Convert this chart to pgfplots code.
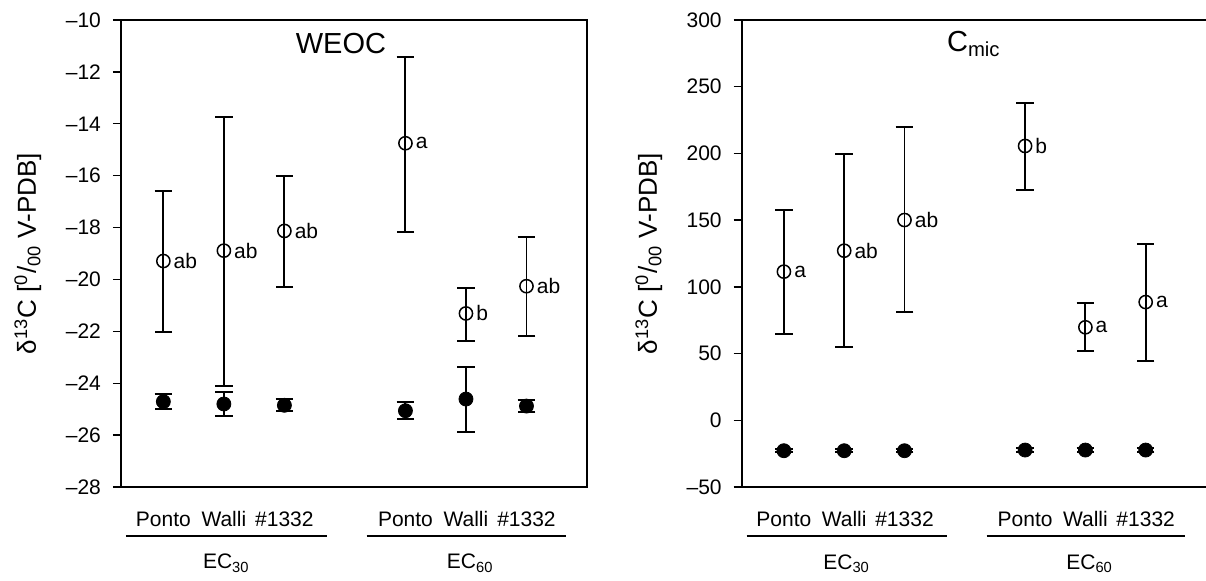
\documentclass[border=0pt]{standalone}
\usepackage{pgfplots}
\pgfplotsset{compat=1.18}
\usepackage{pgfplotstable}
\usepackage{fontspec}
\setmainfont{Liberation Sans}

% x: 1-3 = EC30 (Ponto, Walli, #1332), 5-7 = EC60
\pgfplotstableread{
x y ep em lab
1 -19.29 2.70 2.73 ab
2 -18.89 5.16 5.22 ab
3 -18.13 2.13 2.15 ab
5 -14.75 3.33 3.41 a
6 -21.31 0.99 1.05 b
7 -20.26 1.91 1.92 ab
}\weocopen
\pgfplotstableread{
x y ep em
1 -24.71 0.28 0.29
2 -24.80 0.45 0.45
3 -24.85 0.24 0.22
5 -25.06 0.35 0.33
6 -24.61 1.24 1.27
7 -24.88 0.23 0.24
}\weocfull
\pgfplotstableread{
x y ep em lab
1 111.4 46.0 47.0 a
2 127.1 72.2 72.4 ab
3 150.1 69.5 69.2 ab
5 205.6 32.0 33.0 b
6 69.7 18.0 18.0 a
7 88.6 43.5 44.4 a
}\cmicopen
\pgfplotstableread{
x y ep em
1 -22.8 1.2 1.2
2 -22.8 1.2 1.2
3 -22.8 1.2 1.2
5 -22.3 1.2 1.2
6 -22.3 1.2 1.2
7 -22.3 1.2 1.2
}\cmicfull

\pgfplotsset{
  panel/.style={
    scale only axis,
    height=233.5pt,
    xmin=0.3, xmax=8,
    xtick={1,2,3,5,6,7},
    xticklabels={Ponto,Walli,\#1332,Ponto,Walli,\#1332},
    major x tick style={draw=none},
    ytick pos=left,
    tick align=outside,
    major tick length=4pt,
    every tick/.style={black, line width=0.7pt},
    axis line style={line width=0.8pt},
    xticklabel style={font=\fontsize{10.5}{12}\selectfont, anchor=base, yshift=-15.75pt},
    yticklabel style={font=\fontsize{10.5}{12}\selectfont, xshift=-2.5pt},
    clip=false,
    every axis y label/.style={at={(axis description cs:-0.2,0.5)}, rotate=90, anchor=center,
      font=\fontsize{13}{15}\selectfont},
    ylabel={δ\textsuperscript{13}C [\textsuperscript{0}/\textsubscript{00} V-PDB]},
  },
  ebar/.style={
    error bars/.cd, y dir=both, y explicit,
    error bar style={line width=0.95pt, black},
    error mark options={rotate=90, line width=0.95pt, mark size=4.4pt, black},
  },
  openpt/.style={only marks, mark=o, mark size=3.3pt,
    mark options={fill=white, draw=black, line width=0.75pt},
    nodes near coords, point meta=explicit symbolic,
    nodes near coords style={anchor=west, xshift=3.8pt, inner sep=1pt,
      font=\fontsize{10.5}{12}\selectfont, black}},
  fullpt/.style={only marks, mark=*, mark size=3.5pt,
    mark options={fill=black, draw=black}},
}

\begin{document}
\begin{tikzpicture}
\useasboundingbox (-60.5pt,-46.5pt) rectangle (542.5pt,243.5pt);

\begin{axis}[panel, at={(0,0)}, anchor=south west, width=233pt,
  ymin=-28, ymax=-10, ytick={-28,-26,...,-10},
  yticklabels={–28,–26,–24,–22,–20,–18,–16,–14,–12,–10}]
\addplot[fullpt, ebar] table[x=x, y=y, y error plus=ep, y error minus=em] {\weocfull};
\addplot[openpt, ebar] table[x=x, y=y, y error plus=ep, y error minus=em, meta=lab] {\weocopen};
\node[font=\fontsize{14.5}{16}\selectfont] at (axis description cs:0.472,0.949) {WEOC};
\draw[line width=0.8pt] (axis cs:0.38,-29.89) -- (axis cs:3.70,-29.89);
\draw[line width=0.8pt] (axis cs:4.36,-29.89) -- (axis cs:7.65,-29.89);
\node[anchor=base, font=\fontsize{10.5}{12}\selectfont] at (axis cs:2.04,-31.16) {EC\textsubscript{30}};
\node[anchor=base, font=\fontsize{10.5}{12}\selectfont] at (axis cs:6.07,-31.16) {EC\textsubscript{60}};
\end{axis}

\begin{axis}[panel, at={(310.35pt,0)}, anchor=south west, width=232.15pt,
  axis x line*=box, axis y line*=left,
  ymin=-50, ymax=300, ytick={-50,0,...,300},
  yticklabels={–50,0,50,100,150,200,250,300}]
\addplot[fullpt, ebar] table[x=x, y=y, y error plus=ep, y error minus=em] {\cmicfull};
\addplot[openpt, ebar] table[x=x, y=y, y error plus=ep, y error minus=em, meta=lab] {\cmicopen};
\node[font=\fontsize{14.5}{16}\selectfont] at (axis description cs:0.50,0.949) {C\textsubscript{mic}};
\draw[line width=0.8pt] (axis cs:0.38,-86.7) -- (axis cs:3.70,-86.7);
\draw[line width=0.8pt] (axis cs:4.36,-86.7) -- (axis cs:7.65,-86.7);
\node[anchor=base, font=\fontsize{10.5}{12}\selectfont] at (axis cs:2.04,-111.5) {EC\textsubscript{30}};
\node[anchor=base, font=\fontsize{10.5}{12}\selectfont] at (axis cs:6.07,-111.5) {EC\textsubscript{60}};
\end{axis}
\end{tikzpicture}
\end{document}
